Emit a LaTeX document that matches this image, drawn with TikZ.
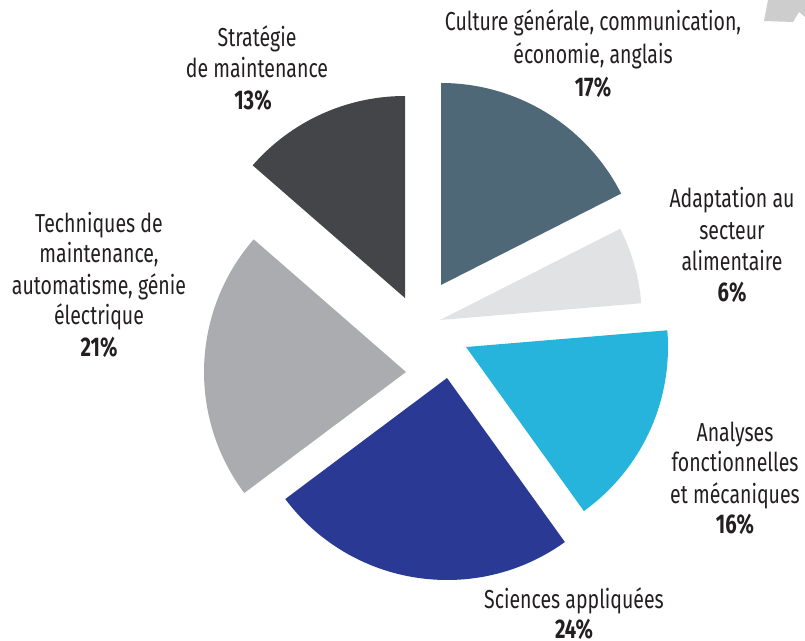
\documentclass[tikz,border=0pt]{standalone}
\usepackage{fontspec}
\setmainfont{Fira Sans}[FakeStretch=0.75]
\definecolor{cCult}{HTML}{4F6878}
\definecolor{cAdapt}{HTML}{E1E2E4}
\definecolor{cAnal}{HTML}{27B4DC}
\definecolor{cSci}{HTML}{2A3A94}
\definecolor{cTech}{HTML}{ABACAF}
\definecolor{cStrat}{HTML}{444548}
\definecolor{cBlob}{HTML}{CDCDCD}
\definecolor{txt}{HTML}{231F20}
\begin{document}
\begin{tikzpicture}[x=1pt,y=1pt,
  lbl/.style={anchor=base, inner sep=0pt, text=txt, font=\fontsize{26}{30}\selectfont},
  pct/.style={anchor=base, inner sep=0pt, text=txt, font=\fontsize{27}{30}\selectfont\bfseries}]
\useasboundingbox (0,0) rectangle (805,640);
% slices
\fill[cCult]  (441,355) -- ++(26.9:202pt)   arc[start angle=26.9,  end angle=90,    radius=202pt] -- cycle;
\fill[cAdapt] (440,320) -- ++(4.75:202pt)   arc[start angle=4.75,  end angle=26.85, radius=202pt] -- cycle;
\fill[cAnal]  (466,293) -- ++(-54.3:202pt)  arc[start angle=-54.3, end angle=4.75,  radius=202pt] -- cycle;
\fill[cSci]   (447,262) -- ++(-143.2:202pt) arc[start angle=-143.2,end angle=-54.3, radius=202pt] -- cycle;
\fill[cTech]  (406,268) -- ++(138.95:202pt) arc[start angle=138.95,end angle=216.8, radius=202pt] -- cycle;
\fill[cStrat] (405,342) -- ++(90:202pt)     arc[start angle=90,    end angle=138.95,radius=202pt] -- cycle;
% corner blob
\fill[cBlob] (768,640) -- (764,619) -- (793,618) -- (799,628) -- (805,623) -- (805,640) -- cycle;
% labels
\node[lbl] (s1) at (257,593) {Stratégie};
\node[lbl] (s2) at (257,562) {de maintenance};
\node[pct] (s3) at (253,530) {13\%};
\node[lbl] (c1) at (593,609) {Culture générale, communication,};
\node[lbl] (c2) at (593,576) {économie, anglais};
\node[pct] (c3) at (593,543) {17\%};
\node[lbl] (a1) at (732,432) {Adaptation au};
\node[lbl] (a2) at (732,400) {secteur};
\node[lbl] (a3) at (732,369) {alimentaire};
\node[pct] (a4) at (732,338) {6\%};
\node[lbl] (n1) at (735,198) {Analyses};
\node[lbl] (n2) at (735,168) {fonctionnelles};
\node[lbl] (n3) at (735,137) {et mécaniques};
\node[pct] (n4) at (735,107) {16\%};
\node[lbl] (t1) at (99,407) {Techniques de};
\node[lbl] (t2) at (99,377) {maintenance,};
\node[lbl] (t3) at (99,345) {automatisme, génie};
\node[lbl] (t4) at (99,315) {électrique};
\node[pct] (t5) at (99,283) {21\%};
\node[lbl] (g1) at (574,32) {Sciences appliquées};
\node[pct] (g2) at (574,2) {24\%};
\end{tikzpicture}
\end{document}
